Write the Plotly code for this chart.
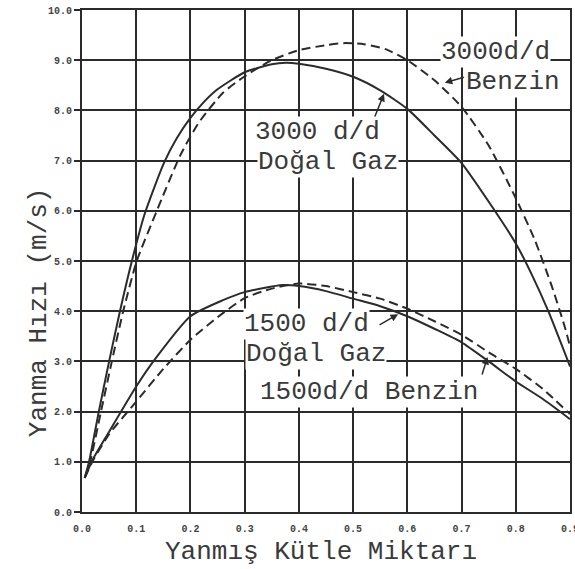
import plotly.graph_objects as go

# ---- data ----
x_3000_gaz = [0.005, 0.013, 0.031, 0.05, 0.07, 0.092, 0.116, 0.151, 0.175, 0.2, 0.225, 0.25, 0.3, 0.35,
              0.376, 0.4, 0.45, 0.5, 0.55, 0.6, 0.65, 0.7, 0.757, 0.8, 0.83, 0.86, 0.9]
y_3000_gaz = [0.68, 1.0, 2.0, 3.0, 4.0, 5.0, 5.95, 6.95, 7.45, 7.85, 8.17, 8.42, 8.76, 8.92,
              8.95, 8.93, 8.83, 8.67, 8.4, 8.03, 7.5, 6.95, 6.07, 5.35, 4.72, 4.0, 2.9]

x_3000_benzin = [0.005, 0.015, 0.035, 0.055, 0.076, 0.101, 0.138, 0.181, 0.215, 0.26, 0.3, 0.35,
                 0.4, 0.45, 0.483, 0.52, 0.56, 0.6, 0.65, 0.7, 0.75, 0.8, 0.835, 0.867, 0.89, 0.9]
y_3000_benzin = [0.68, 1.0, 2.0, 3.0, 4.0, 5.0, 6.0, 7.1, 7.75, 8.35, 8.68, 9.0,
                 9.2, 9.3, 9.34, 9.32, 9.22, 9.0, 8.6, 8.07, 7.3, 6.25, 5.42, 4.48, 3.7, 3.3]

x_1500_gaz = [0.005, 0.02, 0.05, 0.1, 0.135, 0.2, 0.26, 0.3, 0.37, 0.4, 0.45, 0.5,
              0.55, 0.6, 0.65, 0.7, 0.75, 0.8, 0.85, 0.9]
y_1500_gaz = [0.68, 1.05, 1.6, 2.5, 3.05, 3.9, 4.22, 4.38, 4.52, 4.5, 4.4, 4.25,
              4.1, 3.9, 3.65, 3.38, 3.0, 2.6, 2.25, 1.85]

x_1500_benzin = [0.005, 0.02, 0.05, 0.1, 0.15, 0.2, 0.25, 0.3, 0.35, 0.4, 0.45, 0.5,
                 0.55, 0.6, 0.65, 0.7, 0.75, 0.8, 0.85, 0.9]
y_1500_benzin = [0.68, 1.02, 1.55, 2.2, 2.85, 3.43, 3.88, 4.26, 4.45, 4.55, 4.5, 4.38,
                 4.25, 4.05, 3.8, 3.53, 3.18, 2.85, 2.45, 1.95]

x_ticks = [0.0, 0.1, 0.2, 0.3, 0.4, 0.5, 0.6, 0.7, 0.8, 0.9]
x_tick_labels = ["0.0", "0.1", "0.2", "0.3", "0.4", "0.5", "0.6", "0.7", "0.8", "0.9"]
y_ticks = [0, 1, 2, 3, 4, 5, 6, 7, 8, 9, 10]
y_tick_labels = ["0.0", "1.0", "2.0", "3.0", "4.0", "5.0", "6.0", "7.0", "8.0", "9.0", "10.0"]

x_title = "Yanmış Kütle Miktarı"
y_title = "Yanma Hızı (m/s)"

# ---- styles ----
INK = "#2b2b2b"
TXTC = "#3a3a3a"
FONT = "Liberation Mono, Courier New, monospace"
TXT = 26

fig = go.Figure()

def add_line(x, y, dashed):
    fig.add_trace(go.Scatter(
        x=x, y=y, mode="lines",
        line=dict(color=INK, width=2, dash="9px,5px" if dashed else "solid",
                  shape="spline", smoothing=0.6),
        showlegend=False, hoverinfo="skip"))

add_line(x_3000_gaz, y_3000_gaz, False)
add_line(x_3000_benzin, y_3000_benzin, True)
add_line(x_1500_gaz, y_1500_gaz, False)
add_line(x_1500_benzin, y_1500_benzin, True)

labels = [
    ("3000 d/d", 0.318, 7.57),
    ("Doğal Gaz", 0.322, 6.97),
    ("3000d/d", 0.660, 9.16),
    ("Benzin", 0.707, 8.57),
    ("1500 d/d", 0.296, 3.75),
    ("Doğal Gaz", 0.300, 3.15),
    ("1500d/d Benzin", 0.327, 2.39),
]
for t, x, y in labels:
    fig.add_annotation(x=x, y=y, text=t, showarrow=False, xanchor="left", yanchor="middle",
                       font=dict(family=FONT, size=TXT, color=TXTC),
                       bgcolor="white", borderpad=0)

arrows = [
    # (tip x, tip y, tail x, tail y)
    (0.557, 8.33, 0.539, 7.85),
    (0.669, 8.55, 0.707, 8.67),
    (0.583, 3.94, 0.546, 3.71),
    (0.748, 3.09, 0.737, 2.71),
]
for tx, ty, ax, ay in arrows:
    fig.add_annotation(x=tx, y=ty, ax=ax, ay=ay, xref="x", yref="y", axref="x", ayref="y",
                       text="", showarrow=True, arrowhead=2, arrowsize=1, arrowwidth=1.5,
                       arrowcolor=INK)

fig.add_annotation(xref="paper", yref="paper", x=-0.123, y=0.398, text=y_title,
                   textangle=-90, showarrow=False,
                   font=dict(family=FONT, size=TXT, color=TXTC))
fig.add_annotation(xref="paper", yref="paper", x=0.49, y=-0.080, text=x_title,
                   showarrow=False, yanchor="middle",
                   font=dict(family=FONT, size=TXT, color=TXTC))

fig.update_xaxes(range=[0, 0.9], tickvals=x_ticks, ticktext=x_tick_labels,
                 showgrid=True, gridcolor=INK, gridwidth=1.5,
                 showline=True, linecolor=INK, linewidth=2, mirror=True,
                 ticks="", ticklabelstandoff=6, zeroline=False, ticklabeloverflow="allow",
                 automargin=False,
                 tickfont=dict(family=FONT, size=10, color="#444", weight="bold"))
fig.update_yaxes(range=[0, 10], tickvals=y_ticks, ticktext=y_tick_labels,
                 showgrid=True, gridcolor=INK, gridwidth=2,
                 showline=True, linecolor=INK, linewidth=2, mirror=True,
                 ticks="outside", ticklen=6, tickcolor=INK, tickwidth=1.5, zeroline=False,
                 automargin=False,
                 tickfont=dict(family=FONT, size=10, color="#444", weight="bold"))

fig.update_layout(width=575, height=569, margin=dict(l=82, r=5, t=10, b=57),
                  plot_bgcolor="white", paper_bgcolor="white", showlegend=False)

fig.write_html("out.html")
